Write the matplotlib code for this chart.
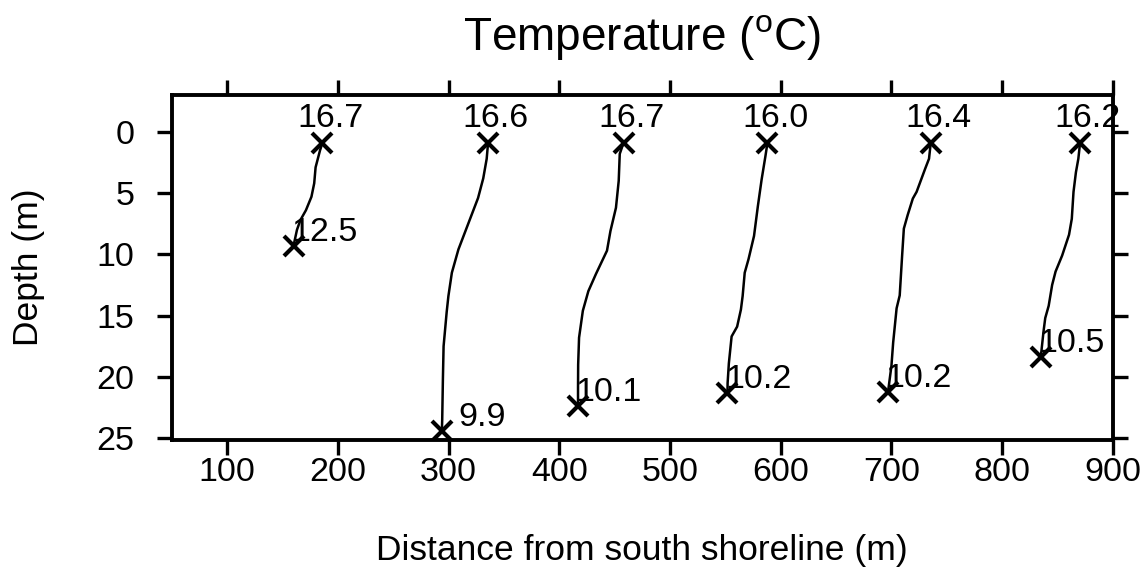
import numpy as np
import matplotlib
matplotlib.use("Agg")
from matplotlib import pyplot as plt

plt.rcParams['font.family'] = ['Liberation Sans', 'DejaVu Sans']

# x position (m) of the bottom reading at each station
station_x = [160, 294, 417, 552, 697, 835]

# temperature profiles: depth (m) and temperature (C), surface first
depths = [
    [0.9, 1.5, 2.9, 4.2, 5.3, 6.4, 7.2, 8.0, 9.3],
    [0.9, 2.2, 3.8, 5.4, 6.8, 8.2, 9.6, 11.5, 13.4, 14.7, 17.5, 20.2, 23.5, 24.4],
    [0.9, 1.8, 4.0, 6.2, 8.1, 9.7, 11.6, 13.0, 14.6, 16.8, 19.0, 20.9, 22.4],
    [0.9, 2.0, 3.9, 6.1, 8.5, 10.4, 11.5, 13.4, 14.5, 15.9, 16.7, 18.9, 20.5, 21.3],
    [0.9, 2.2, 3.0, 4.9, 5.45, 6.8, 7.9, 10.1, 13.35, 14.4, 17.2, 19.1, 21.25],
    [0.9, 2.2, 3.3, 4.9, 7.1, 8.4, 10.1, 11.4, 12.5, 14.2, 15.2, 16.3, 18.4],
]
temps = [
    [16.7, 16.35, 15.7, 15.5, 15.1, 14.3, 13.5, 13.0, 12.5],
    [16.6, 16.4, 15.9, 15.15, 14.2, 13.25, 12.3, 11.35, 10.85, 10.6, 10.15, 10.05, 9.95, 9.9],
    [16.7, 16.15, 16.0, 15.6, 14.8, 14.3, 12.7, 11.6, 10.8, 10.25, 10.12, 10.1, 10.1],
    [16.0, 15.7, 15.15, 14.6, 14.05, 13.25, 12.7, 12.4, 12.15, 11.6, 10.8, 10.4, 10.22, 10.2],
    [16.4, 16.15, 15.6, 14.35, 13.8, 13.05, 12.5, 12.25, 11.9, 11.45, 10.95, 10.7, 10.2],
    [16.2, 15.95, 15.6, 15.25, 15.0, 14.6, 13.6, 12.65, 12.15, 11.65, 11.15, 10.9, 10.5],
]
SCALE = 6.23  # metres of distance per degree C

xticks = [100, 200, 300, 400, 500, 600, 700, 800, 900]
yticks = [0, 5, 10, 15, 20, 25]

fig = plt.figure(figsize=(11.45, 5.69), dpi=100)
ax = fig.add_axes([0.150, 0.2267, 0.8218, 0.6063])

for sx, d, t in zip(station_x, depths, temps):
    t = np.array(t)
    x = sx + SCALE * (t - t[-1])
    ax.plot(x, d, color='black', lw=1.8)
    ax.plot([x[0], x[-1]], [d[0], d[-1]], ls='none', marker='x', ms=15,
            mew=3, color='black')
    ax.annotate('%.1f' % t[0], (x[0], d[0]), xytext=(5.5, 11.5),
                textcoords='offset points', ha='center', va='baseline',
                fontsize=24.5)
    ax.annotate('%.1f' % t[-1], (x[-1], d[-1]), xytext=(46, 3.5),
                textcoords='offset points', ha='right', va='baseline',
                fontsize=24.5)

ax.set_xlim(50, 900)
ax.set_ylim(25.15, -3.0)
ax.set_xticks(xticks)
ax.set_yticks(yticks)
ax.tick_params(direction='out', top=True, right=True, labeltop=False,
               labelright=False, length=11, width=2.4, labelsize=24.5)
ax.tick_params(axis='x', pad=1)
ax.tick_params(axis='y', pad=16)
for s in ax.spines.values():
    s.set_linewidth(2.8)

fig.text(0.5607, 0.912, r'Temperature ($^\mathregular{o}$C)', ha='center',
         va='baseline', fontsize=33)
fig.text(0.5607, 0.016, 'Distance from south shoreline (m)', ha='center',
         va='baseline', fontsize=25.5)
fig.text(0.0245, 0.53, 'Depth (m)', rotation=90, ha='center', va='center',
         fontsize=25.5)

fig.savefig('out.png', dpi=100)
